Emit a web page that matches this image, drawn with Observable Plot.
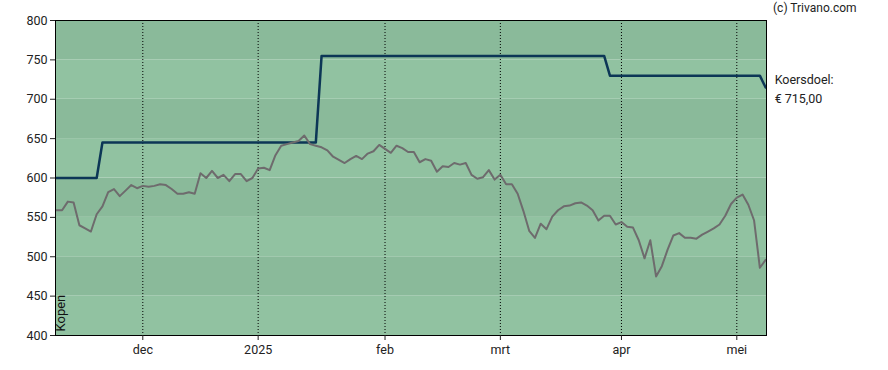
<!DOCTYPE html>
<html>
<head>
<meta charset="utf-8">
<script src="https://cdn.jsdelivr.net/npm/d3@7"></script>
<script src="https://cdn.jsdelivr.net/npm/@observablehq/plot@0.6"></script>
<style>
  html, body { margin: 0; padding: 0; background: #fff; }
  #chart { position: relative; width: 888px; height: 370px; }
  #copy { position: absolute; left: 773px; top: 1px; font: 12px Roboto, sans-serif; color: #222; }
</style>
</head>
<body>
<div id="chart"><div id="copy">(c) Trivano.com</div></div>
<script>
// Trading-day index of each data point (0 = 11 Nov 2024, 123 = 8 May 2025)
const price = [
  559, 559, 570, 569, 540, 536, 532, 554, 564, 582,
  586, 577, 584, 591, 587, 590, 589, 590, 592, 591,
  586, 580, 580, 582, 580, 606, 600, 609, 600, 604,
  596, 605, 605, 596, 600, 612, 613, 610, 629, 641,
  643, 645, 647, 654, 643, 641, 639, 635, 627, 623,
  619, 624, 628, 624, 631, 634, 642, 637, 632, 641,
  638, 633, 633, 620, 624, 622, 608, 615, 614, 619,
  617, 619, 604, 599, 601, 610, 598, 604, 592, 592,
  580, 558, 533, 524, 542, 535, 551, 559, 564, 565,
  568, 569, 565, 559, 546, 552, 552, 541, 544, 538,
  537, 521, 498, 521, 475, 488, 509, 527, 530, 524,
  524, 523, 528, 532, 536, 541, 552, 567, 575, 579,
  566, 546, 486, 496
];
const targetIdx = [0, 7, 8, 45, 46, 95, 96, 122, 123];
const targetVal = [600, 600, 645, 645, 755, 755, 730, 730, 715];
const monthIdx = [15, 35, 57, 77, 98, 118];
const monthLabels = ["dec", "2025", "feb", "mrt", "apr", "mei"];
const yTicks = [400, 450, 500, 550, 600, 650, 700, 750, 800];
const bandStarts = [400, 450, 500, 550, 600, 650, 700, 750];
const targetLabel = "Koersdoel:\n€ 715,00";
const adviceLabel = "Kopen";

const priceData = price.map((v, i) => ({i, v}));
const targetData = targetIdx.map((x, k) => ({i: x, v: targetVal[k]}));
const lastTarget = targetData[targetData.length - 1];

const chart = Plot.plot({
  width: 888,
  height: 370,
  marginLeft: 55,
  marginRight: 122,
  marginTop: 20,
  marginBottom: 35,
  style: {fontFamily: "Roboto, sans-serif", fontSize: "12px", color: "#222", background: "transparent"},
  x: {domain: [-0.14, 123.15], axis: null},
  y: {domain: [400, 800], axis: null},
  marks: [
    Plot.rect(bandStarts, {
      y1: d => d, y2: d => d + 50,
      fill: d => ((d - 400) / 50) % 2 === 0 ? "#91c2a1" : "#8aba9a"
    }),
    Plot.ruleX(monthIdx, {x: d => d, stroke: "#000", strokeWidth: 1, strokeDasharray: "1,2"}),
    Plot.line(targetData, {x: "i", y: "v", stroke: "#0c3656", strokeWidth: 2.5}),
    Plot.line(priceData, {x: "i", y: "v", stroke: "#6e6b6d", strokeWidth: 2}),
    Plot.frame({stroke: "#000", strokeWidth: 1}),
    Plot.axisY({ticks: yTicks, tickSize: 5, tickPadding: 3, tickFormat: d => String(d), fontSize: 12.5, label: null}),
    Plot.axisX({ticks: monthIdx, tickSize: 5, tickPadding: 5, tickFormat: d => monthLabels[monthIdx.indexOf(d)], fontSize: 12.5, label: null}),
    Plot.text([lastTarget], {x: "i", y: "v", text: () => targetLabel, textAnchor: "start", dx: 9, lineHeight: 1.5, fontSize: 12.5, fill: "#222"}),
    Plot.text([adviceLabel], {frameAnchor: "bottom-left", text: d => d, rotate: -90, textAnchor: "start", dx: 9, dy: -4, fontSize: 13, fill: "#111"})
  ]
});
document.getElementById("chart").appendChild(chart);
</script>
</body>
</html>
